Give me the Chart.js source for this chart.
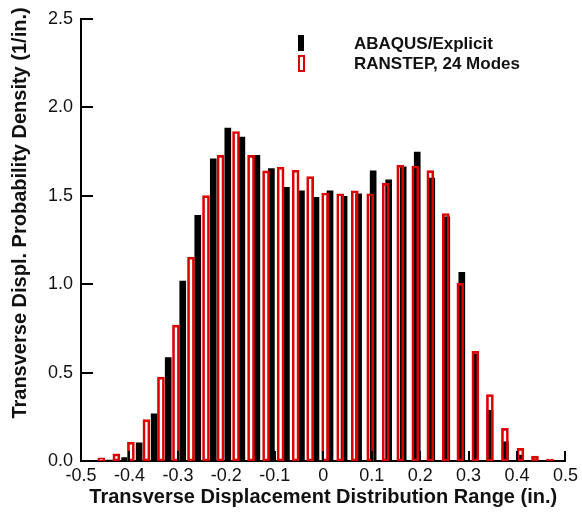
<!DOCTYPE html>
<html>
<head>
<meta charset="utf-8">
<script src="https://cdn.jsdelivr.net/npm/chart.js@4"></script>
<style>
  html, body { margin: 0; padding: 0; background: #fff; }
  #wrap { width: 582px; height: 514px; }
</style>
</head>
<body>
<div id="wrap"><canvas id="pdfChart" width="582" height="514"></canvas></div>
<script>
// bin centres (in.) and densities
const ransX = [-0.458, -0.427, -0.397, -0.365, -0.335, -0.304, -0.273, -0.242, -0.212, -0.180,
  -0.149, -0.118, -0.088, -0.057, -0.027, 0.004, 0.035, 0.065, 0.097, 0.129,
  0.159, 0.190, 0.221, 0.253, 0.283, 0.314, 0.344, 0.375, 0.407, 0.437, 0.468];
const ransY = [0.018, 0.04, 0.107, 0.234, 0.474, 0.768, 1.153, 1.50, 1.728, 1.863,
  1.728, 1.64, 1.661, 1.644, 1.608, 1.515, 1.511, 1.528, 1.511, 1.571,
  1.672, 1.668, 1.642, 1.399, 1.004, 0.62, 0.375, 0.184, 0.071, 0.028, 0.011];

const abaqusX = [-0.441, -0.410, -0.380, -0.349, -0.320, -0.290, -0.259, -0.227, -0.197, -0.168,
  -0.137, -0.107, -0.076, -0.045, -0.015, 0.014, 0.043, 0.073, 0.103, 0.135,
  0.165, 0.194, 0.224, 0.255, 0.286, 0.314, 0.344, 0.376, 0.406];
const abaqusY = [0.005, 0.02, 0.103, 0.266, 0.584, 1.017, 1.389, 1.708, 1.882, 1.831,
  1.728, 1.653, 1.547, 1.528, 1.49, 1.528, 1.496, 1.511, 1.64, 1.59,
  1.663, 1.747, 1.60, 1.38, 1.067, 0.605, 0.287, 0.108, 0.034];

const legendLabels = ['ABAQUS/Explicit', 'RANSTEP, 24 Modes'];
const xTitle = 'Transverse Displacement Distribution Range (in.)';
const yTitle = 'Transverse Displ. Probability Density (1/in.)';

const RED = '#dd0000';
const FONT = '"Liberation Sans", Arial, sans-serif';

function toPoints(xs, ys) {
  return xs.map((x, i) => ({ x: x, y: ys[i] }));
}

// inward tick marks, legend and rotated y title
const decorPlugin = {
  id: 'decor',
  afterDraw(chart) {
    const ctx = chart.ctx;
    const area = chart.chartArea;
    const xs = chart.scales.x, ys = chart.scales.y;
    ctx.save();
    ctx.strokeStyle = '#000';
    ctx.lineWidth = 2;
    ys.ticks.forEach(t => {
      const py = Math.round(ys.getPixelForValue(t.value));
      ctx.beginPath();
      ctx.moveTo(area.left, py);
      ctx.lineTo(area.left + 12, py);
      ctx.stroke();
    });
    xs.ticks.forEach(t => {
      const px = Math.round(xs.getPixelForValue(t.value));
      ctx.beginPath();
      ctx.moveTo(px, area.bottom);
      ctx.lineTo(px, area.bottom - 10);
      ctx.stroke();
    });

    // legend
    ctx.fillStyle = '#000';
    ctx.fillRect(298, 35, 6, 16);
    ctx.strokeStyle = RED;
    ctx.lineWidth = 2;
    ctx.strokeRect(299, 56, 5, 15);
    ctx.font = 'bold 17px ' + FONT;
    ctx.fillStyle = '#111';
    ctx.textBaseline = 'middle';
    ctx.textAlign = 'left';
    ctx.fillText(legendLabels[0], 354, 44);
    ctx.fillText(legendLabels[1], 354, 64);

    // y axis title
    ctx.font = 'bold 20px ' + FONT;
    ctx.translate(20, 213);
    ctx.rotate(-Math.PI / 2);
    ctx.textAlign = 'center';
    ctx.fillText(yTitle, 0, 0);
    ctx.restore();
  }
};

const chart = new Chart(document.getElementById('pdfChart'), {
  type: 'bar',
  data: {
    datasets: [{
      label: legendLabels[1],
      data: toPoints(ransX, ransY),
      backgroundColor: 'rgba(0,0,0,0)',
      borderColor: RED,
      borderWidth: 2,
      borderSkipped: false,
      barThickness: 7,
      grouped: false
    }, {
      label: legendLabels[0],
      data: toPoints(abaqusX, abaqusY),
      backgroundColor: '#000',
      borderWidth: 0,
      barThickness: 6,
      grouped: false
    }]
  },
  options: {
    responsive: false,
    animation: false,
    layout: { padding: { top: 16, right: 11, left: 0, bottom: 0 } },
    plugins: {
      legend: { display: false },
      tooltip: { enabled: false }
    },
    scales: {
      x: {
        type: 'linear',
        min: -0.5,
        max: 0.5,
        offset: false,
        afterFit: function(scale) { scale.height = 53; },
        grid: { display: false, drawTicks: false },
        border: { display: true, color: '#000', width: 2 },
        ticks: {
          stepSize: 0.1,
          padding: 4,
          maxRotation: 0,
          color: '#111',
          font: { family: FONT, size: 18 },
          callback: function(value) {
            const v = Math.round(value * 10) / 10;
            return v === 0 ? '0' : v.toFixed(1);
          }
        },
        title: {
          display: true,
          text: xTitle,
          color: '#111',
          font: { family: FONT, size: 20, weight: 'bold' },
          padding: { top: 0, bottom: 5 }
        }
      },
      y: {
        min: 0,
        max: 2.5,
        afterFit: function(scale) { scale.width = 81; },
        grid: { display: false, drawTicks: false },
        border: { display: true, color: '#000', width: 2 },
        ticks: {
          stepSize: 0.5,
          padding: 8,
          color: '#111',
          font: { family: FONT, size: 18 },
          callback: function(value) { return value.toFixed(1); }
        }
      }
    }
  },
  plugins: [decorPlugin]
});
</script>
</body>
</html>
